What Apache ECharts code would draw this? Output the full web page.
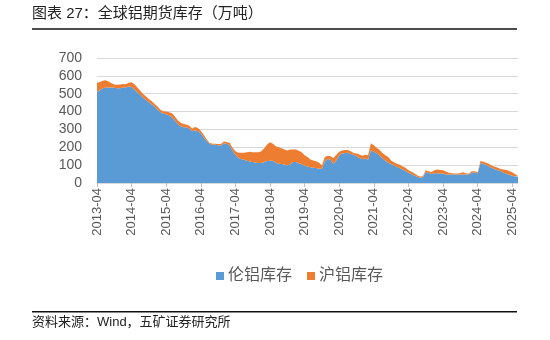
<!DOCTYPE html>
<html>
<head>
<meta charset="utf-8">
<script src="https://cdn.jsdelivr.net/npm/echarts@6/dist/echarts.min.js"></script>
<style>html,body{margin:0;padding:0;background:#fff;}#c{width:550px;height:340px;}</style>
</head>
<body>
<div id="c"></div>
<script>
// Monthly categories 2013-04 .. 2025-06
var startYear = 2013, startMonth = 4, monthCount = 147;
var categories = [];
for (var i = 0; i < monthCount; i++) {
  var m = startMonth - 1 + i;
  var y = startYear + Math.floor(m / 12);
  var mm = (m % 12) + 1;
  categories.push(y + '-' + (mm < 10 ? '0' + mm : mm));
}

var seriesNames = ['伦铝库存', '沪铝库存'];

// LME aluminium stocks (万吨)
var lme = [
  510,520,530,535,535,535,533,531,531,            // 2013-04..12
  535,535,540,538,522,508,494,477,465,452,440,428, // 2014
  412,397,388,385,380,367,350,330,318,312,312,305, // 2015
  290,295,290,279,255,235,220,214,214,212,210,222, // 2016
  220,210,180,158,142,135,130,124,120,118,114,112, // 2017
  112,117,123,125,125,113,108,106,104,98,105,118,  // 2018
  118,110,105,97,93,88,85,84,80,80,120,135,        // 2019
  130,105,128,155,165,168,170,162,158,150,140,133, // 2020
  138,130,183,175,166,152,138,124,114,106,98,90,   // 2021
  84,75,67,58,50,42,35,30,32,62,56,50,             // 2022
  55,55,53,53,48,47,47,47,47,47,47,47,             // 2023
  47,58,60,53,114,106,101,92,84,77,72,67,          // 2024
  58,52,46,41,37,36                                // 2025-01..06
];

// SHFE aluminium stocks (万吨)
var shfe = [
  52,46,42,40,33,23,19,19,21,                      // 2013-04..12
  20,18,22,26,31,27,22,21,19,18,18,15,             // 2014
  16,13,14,15,16,23,22,22,20,18,15,15,             // 2015
  15,19,18,14,15,10,6,6,6,6,8,10,                  // 2016
  10,15,18,20,28,35,40,48,55,54,58,60,             // 2017
  66,78,92,103,95,93,92,89,84,84,83,70,            // 2018
  70,70,67,58,52,44,41,38,33,20,25,17,             // 2019
  20,35,30,20,17,17,15,16,10,15,20,19,             // 2020
  20,25,39,37,32,33,30,32,31,20,18,18,             // 2021
  18,18,18,14,14,13,9,7,6,10,10,12,                // 2022
  17,20,20,18,17,11,7,6,6,9,13,6,                  // 2023
  6,8,6,7,9,13,13,14,13,14,13,12,                  // 2024
  18,21,21,19,12,9                                 // 2025-01..06
];

var yTicks = { min: 0, max: 700, interval: 100 };

var FONT = '"Liberation Sans", "Noto Sans CJK SC", sans-serif';
var chart = echarts.init(document.getElementById('c'));

function isYearTick(idx, val) { return /-04$/.test(val); }

chart.setOption({
  animation: false,
  backgroundColor: '#fff',
  textStyle: { fontFamily: FONT },
  grid: { left: 97, right: 32, top: 58, bottom: 157, containLabel: false },
  legend: {
    left: 211, top: 263,
    itemWidth: 8, itemHeight: 8, itemGap: 15,
    icon: 'rect',
    textStyle: { fontSize: 16, color: '#595959', fontFamily: FONT, padding: [0, 0, 0, -1] },
    data: seriesNames
  },
  xAxis: {
    type: 'category',
    boundaryGap: false,
    data: categories,
    axisLine: { lineStyle: { color: '#d9d9d9', width: 1 } },
    axisTick: { show: true, interval: isYearTick, length: 4, lineStyle: { color: '#bfbfbf' } },
    axisLabel: { interval: isYearTick, rotate: 90, fontSize: 13, color: '#595959', margin: 5, fontFamily: FONT },
    splitLine: { show: false }
  },
  yAxis: {
    type: 'value',
    min: yTicks.min, max: yTicks.max, interval: yTicks.interval,
    axisLine: { show: false },
    axisTick: { show: false },
    axisLabel: { fontSize: 14, color: '#595959', margin: 15, fontFamily: FONT },
    splitLine: { lineStyle: { color: '#d9d9d9', width: 1 } }
  },
  series: [
    {
      name: seriesNames[0], type: 'line', stack: 'total', data: lme,
      showSymbol: false, symbol: 'none',
      lineStyle: { width: 0 }, itemStyle: { color: '#5B9BD5' },
      areaStyle: { color: '#5B9BD5', opacity: 1 }
    },
    {
      name: seriesNames[1], type: 'line', stack: 'total', data: shfe,
      showSymbol: false, symbol: 'none',
      lineStyle: { width: 0 }, itemStyle: { color: '#ED7D31' },
      areaStyle: { color: '#ED7D31', opacity: 1 }
    }
  ],
  graphic: [
    { type: 'text', left: 32, top: 6, style: { text: '图表 27：全球铝期货库存（万吨）', fontSize: 15, fill: '#222', fontFamily: FONT } },
    { type: 'rect', shape: { x: 32, y: 28.2, width: 485, height: 1.6 }, style: { fill: '#111' } },
    { type: 'rect', shape: { x: 32, y: 311, width: 485, height: 1.6 }, style: { fill: '#111' } },
    { type: 'text', left: 32, top: 316, style: { text: '资料来源：Wind，五矿证券研究所', fontSize: 13, fill: '#222', fontFamily: FONT } }
  ]
});
</script>
</body>
</html>
